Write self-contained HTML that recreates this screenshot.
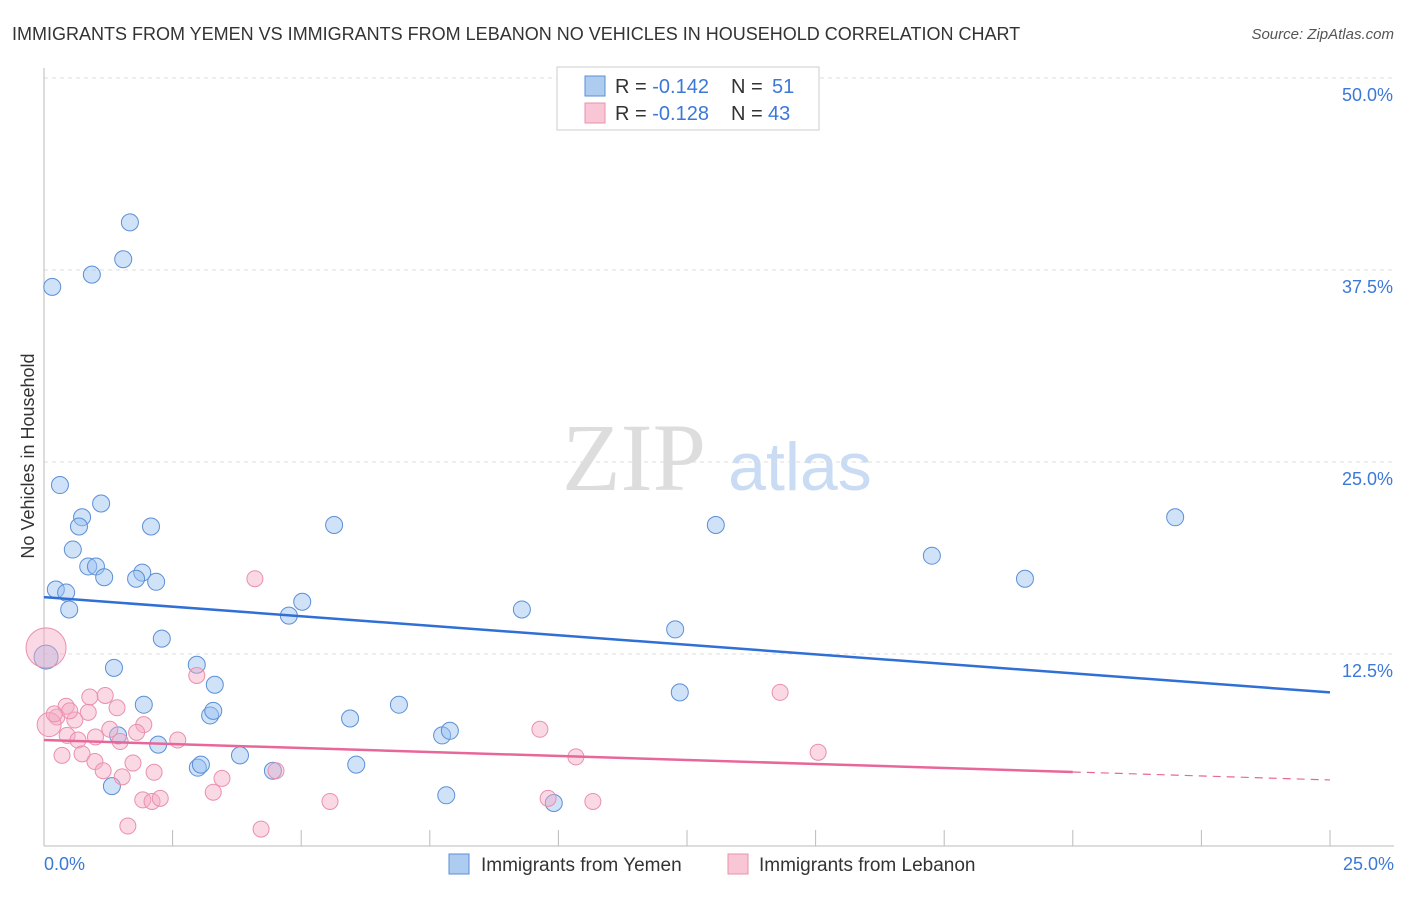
<!DOCTYPE html>
<html><head><meta charset="utf-8"><style>
body{margin:0;background:#fff;font-family:"Liberation Sans",sans-serif;}
svg text{font-family:"Liberation Sans",sans-serif;}
</style></head><body>
<svg id="c" width="1406" height="892" xmlns="http://www.w3.org/2000/svg">
<text x="12" y="40" font-size="18" fill="#333">IMMIGRANTS FROM YEMEN VS IMMIGRANTS FROM LEBANON NO VEHICLES IN HOUSEHOLD CORRELATION CHART</text>
<text x="1394" y="39" font-size="15" fill="#555" text-anchor="end" font-style="italic">Source: ZipAtlas.com</text>
<text x="634" y="490" font-size="96" fill="#ddd" font-family="Liberation Serif" text-anchor="middle" style="font-family:'Liberation Serif',serif">ZIP</text>
<text x="800" y="490" font-size="68" fill="#c9dcf3" text-anchor="middle">atlas</text>
<text transform="translate(34,456) rotate(-90)" font-size="18" fill="#333" text-anchor="middle">No Vehicles in Household</text>
<g id="grid"></g><g id="axes"></g><g id="pts"></g><g id="trend"></g>
<g>
<rect x="557" y="67" width="262" height="63" fill="#fff" stroke="#ccc"/>
<rect x="585" y="76" width="20" height="20" fill="#aecbf0" stroke="#5b8fd6"/>
<rect x="585" y="103" width="20" height="20" fill="#f8c6d4" stroke="#e891ad"/>
<text x="615" y="93" font-size="20" fill="#333">R = <tspan fill="#3b78d8">-0.142</tspan><tspan x="731">N = </tspan><tspan x="772" fill="#3b78d8">51</tspan></text>
<text x="615" y="120" font-size="20" fill="#333">R = <tspan fill="#3b78d8">-0.128</tspan><tspan x="731">N = </tspan><tspan x="768" fill="#3b78d8">43</tspan></text>
</g>
<g>
<rect x="449" y="854" width="20" height="20" fill="#aecbf0" stroke="#5b8fd6"/>
<text x="481" y="871" font-size="19" fill="#333">Immigrants from Yemen</text>
<rect x="728" y="854" width="20" height="20" fill="#f8c6d4" stroke="#e891ad"/>
<text x="759" y="871" font-size="19" fill="#333">Immigrants from Lebanon</text>
</g>
</svg>
<script>
const yemenX=[1.67,1.54,0.93,0.16,0.31,1.11,0.74,0.68,2.08,0.56,0.86,1.01,1.17,1.91,1.79,2.18,0.23,0.43,0.49,2.29,0.04,1.36,2.97,3.32,1.94,3.23,3.29,2.22,1.44,1.32,2.99,3.05,3.81,4.45,4.76,5.02,5.64,5.95,6.07,6.90,7.74,7.89,7.82,9.29,9.91,12.27,12.36,13.06,17.26,19.07,21.99];
const yemenY=[40.6,38.2,37.2,36.4,23.5,22.3,21.4,20.8,20.8,19.3,18.2,18.2,17.5,17.8,17.4,17.2,16.7,16.5,15.4,13.5,12.3,11.6,11.8,10.5,9.2,8.5,8.8,6.6,7.2,3.9,5.1,5.3,5.9,4.9,15.0,15.9,20.9,8.3,5.3,9.2,7.2,7.5,3.3,15.4,2.8,14.1,10.0,20.9,18.9,17.4,21.4];
const lebX=[0.04,4.10,2.97,14.31,1.19,0.89,0.43,0.25,0.10,0.60,0.86,1.42,1.94,0.45,1.28,0.66,1.48,0.74,0.35,0.99,1.73,1.15,2.14,1.52,3.46,3.29,9.64,10.34,15.05,1.92,2.10,2.26,5.56,9.80,10.67,1.63,4.22,4.51,0.2,1.8,2.6,0.5,1.0];
const lebY=[12.9,17.4,11.1,10.0,9.8,9.7,9.1,8.4,7.9,8.2,8.7,9.0,7.9,7.2,7.6,6.9,6.8,6.0,5.9,5.5,5.4,4.9,4.8,4.5,4.4,3.5,7.6,5.8,6.1,3.0,2.9,3.1,2.9,3.1,2.9,1.3,1.1,4.9,8.6,7.4,6.9,8.8,7.1];
const lebR=[20,8,8,8,8,8,8,8,12,8,8,8,8,8,8,8,8,8,8,8,8,8,8,8,8,8,8,8,8,8,8,8,8,8,8,8,8,8,8,8,8,8,8];
const yTicks=[12.5,25.0,37.5,50.0];
const xTicks=[0,2.5,5,7.5,10,12.5,15,17.5,20,22.5,25];
const trendYemen=[16.2,10.0];
const trendLeb=[6.9,4.3];
const NS="http://www.w3.org/2000/svg";
const sx=v=>44+v/25*1286, sy=v=>846-v/12.5*192;
function mk(t,a,p){const e=document.createElementNS(NS,t);for(const k in a)e.setAttribute(k,a[k]);p.appendChild(e);return e;}
const grid=document.getElementById('grid'),axes=document.getElementById('axes'),pts=document.getElementById('pts'),tr=document.getElementById('trend');
yTicks.forEach(t=>{const l=mk('line',{x1:44,x2:1394,y1:sy(t),y2:sy(t),stroke:'#ddd','stroke-dasharray':'4,4'},grid);


const tx=mk('text',{x:1393,y:sy(t)+23,'font-size':18,fill:'#3b78d8','text-anchor':'end'},axes);tx.textContent=t.toFixed(1)+'%';

});
const ax=mk('line',{x1:44,x2:44,y1:68,y2:846,stroke:'#bbb'},axes);


const bx=mk('line',{x1:44,x2:1394,y1:846,y2:846,stroke:'#bbb'},axes);


xTicks.forEach(t=>{const l=mk('line',{x1:sx(t),x2:sx(t),y1:846,y2:830,stroke:'#bbb'},axes);

});
[[0,'start',44],[25,'end',1394]].forEach(([v,a,x])=>{const t=mk('text',{x:x,y:870,'font-size':18,fill:'#3b78d8','text-anchor':a},axes);t.textContent=v.toFixed(1)+'%';

});
yemenX.forEach((x,i)=>{const c=mk('circle',{cx:sx(x),cy:sy(yemenY[i]),r:i==20?12:8.5,fill:'rgba(150,190,240,0.45)',stroke:'#5b8fd6','stroke-width':1},pts);

});
lebX.forEach((x,i)=>{const c=mk('circle',{cx:sx(x),cy:sy(lebY[i]),r:lebR[i],fill:'rgba(245,170,195,0.45)',stroke:'#ea8fae','stroke-width':1},pts);

});
const ly=v=>trendLeb[0]+(trendLeb[1]-trendLeb[0])*v/25;
const t1=mk('line',{x1:sx(0),y1:sy(trendYemen[0]),x2:sx(25),y2:sy(trendYemen[1]),stroke:'#2f6fd6','stroke-width':2.5},tr);


const t2=mk('line',{x1:sx(0),y1:sy(ly(0)),x2:sx(20),y2:sy(ly(20)),stroke:'#e8679a','stroke-width':2.5},tr);


const t3=mk('line',{x1:sx(20),y1:sy(ly(20)),x2:sx(25),y2:sy(ly(25)),stroke:'#e8679a','stroke-width':1.2,'stroke-dasharray':'8,6'},tr);


</script>
</body></html>
